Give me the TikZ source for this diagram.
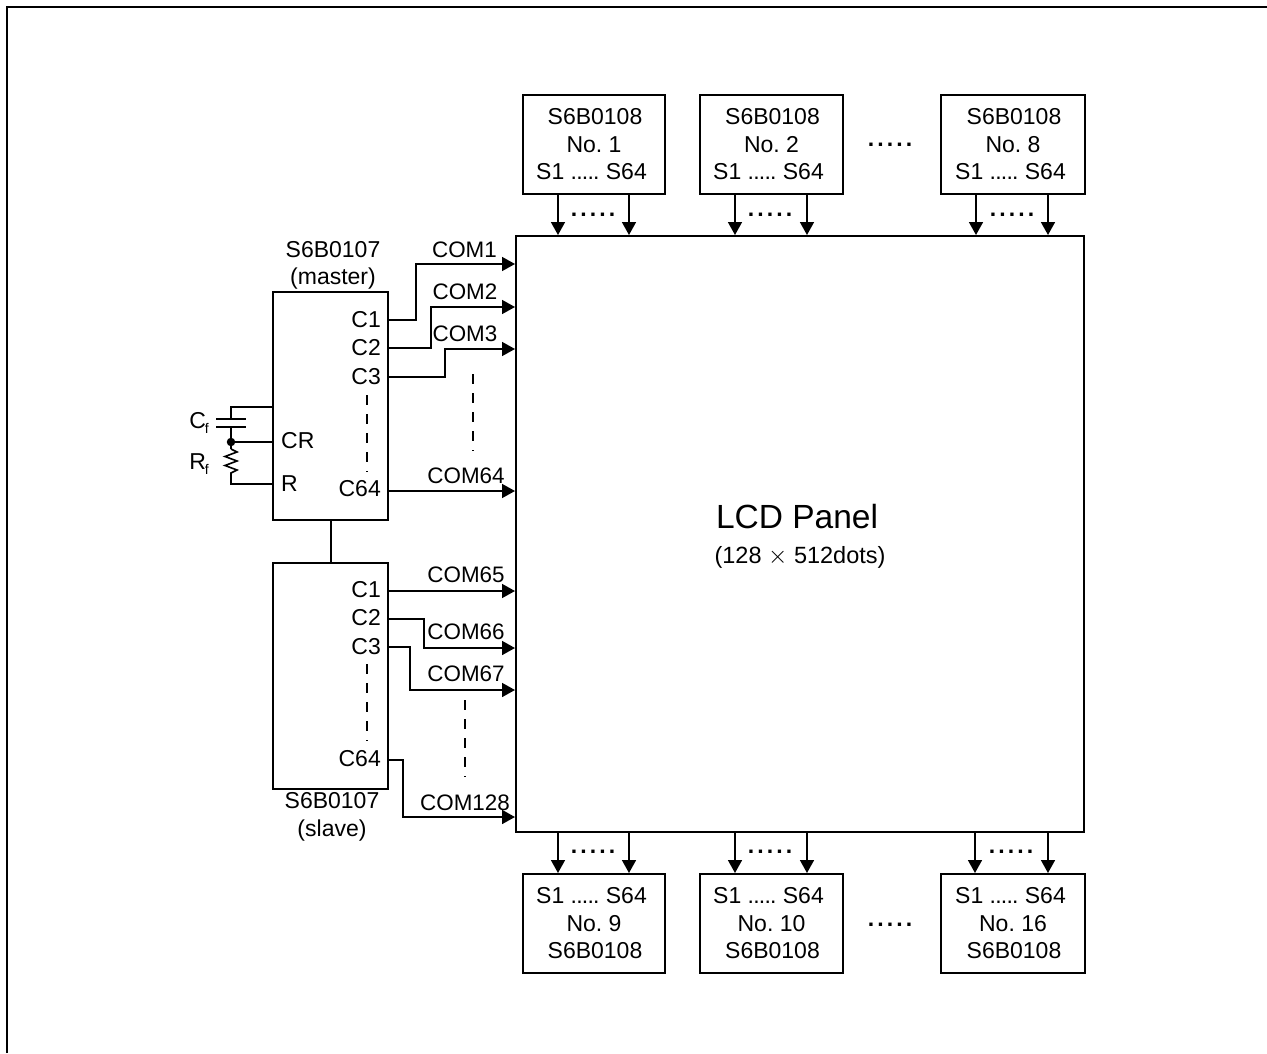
\documentclass[tikz,border=0pt]{standalone}
\usepackage{fontspec}
\setmainfont{Liberation Sans}
\usetikzlibrary{arrows.meta}
\newcommand{\dotrow}{\bfseries.\kern3.1pt.\kern3.1pt.\kern3.1pt.\kern3.1pt.}
\newcommand{\pinrange}[1]{S1 .\kern-.8pt.\kern-.8pt.\kern-.8pt.\kern-.8pt. S64\kern#1pt}
\newcommand{\drvname}{\kern2pt S6B0108}
\tikzset{
  x=1pt,y=-1pt,
  wire/.style={line width=1.6pt,line join=miter},
  arrowwire/.style={wire,-{Triangle[length=13pt,width=14pt]}},
  chip/.style={draw,line width=2pt,inner sep=0pt,outer sep=0pt,anchor=north west,align=center,
    font=\fontsize{23}{27.5}\selectfont},
  lbl/.style={inner sep=0pt,font=\fontsize{23}{27.5}\selectfont},
  comlbl/.style={inner sep=0pt,font=\fontsize{22.4}{27}\selectfont},
  dashline/.style={line width=1.5pt,dash pattern=on 10pt off 9pt},
  frameline/.style={line width=2pt}
}
\begin{document}
\frenchspacing
\begin{tikzpicture}
\useasboundingbox (0,0) rectangle (1267,1053);
\coordinate (f1) at (7,1053); \coordinate (f2) at (7,7); \coordinate (f3) at (1267,7);
\draw[frameline] (f1) -- (f2) -- (f3);

% LCD panel
\node[draw,line width=2pt,inner sep=0pt,outer sep=0pt,minimum width=568pt,minimum height=596pt,anchor=north west] (panel) at (516,236) {};
\node[lbl,font=\fontsize{33.5}{36}\selectfont] (t1) at (797,517) {LCD Panel};
\node[lbl,font=\fontsize{23.5}{27}\selectfont] (t2) at (800,557) {(128 $\times$ 512dots)};

% top driver chips
\foreach \n/\x/\w/\l/\k in {tA/523/142/1/5,tB/700/143/2/6,tC/941/144/8/5}{
  \node[chip,minimum width=\w pt,minimum height=99pt] (\n) at (\x,95)
    {\drvname\\No. \l\\\pinrange{\k}};
}
% bottom driver chips
\foreach \n/\x/\w/\l/\k in {bA/523/142/9/5,bB/700/143/10/6,bC/941/144/16/5}{
  \node[chip,minimum width=\w pt,minimum height=99pt] (\n) at (\x,874)
    {\pinrange{\k}\\No. \l\\\drvname};
}
% top and bottom arrows
\foreach \x/\c in {558/a,629/b,735/c,807/d,976/e,1048/f}{
  \coordinate (u\c) at (\x,194); \coordinate (v\c) at (\x,235);
  \draw[arrowwire] (u\c) -- (v\c);
}
\foreach \x/\c in {558/a,629/b,735/c,807/d,975/e,1048/f}{
  \coordinate (p\c) at (\x,832); \coordinate (q\c) at (\x,873);
  \draw[arrowwire] (p\c) -- (q\c);
}
% dot rows
\foreach \n/\x/\y in {d1/593/215,d2/770/215,d3/1012/215,d4/593/852,d5/770/852,d6/1011/852,d7/890/145,d8/890/925}{
  \node[lbl] (\n) at (\x,\y) {\dotrow};
}

% common drivers
\node[chip,minimum width=115pt,minimum height=228pt] (master) at (273,292) {};
\node[chip,minimum width=115pt,minimum height=226pt] (slave) at (273,563) {};
\coordinate (mb) at (331,520); \coordinate (st) at (331,563);
\draw[wire] (mb) -- (st);
\node[lbl,align=center] (mname) at (333,265.5) {S6B0107\\(master)};
\node[lbl,align=center] (sname) at (332,817) {S6B0107\\(slave)};

% pin labels
\foreach \n/\y/\t in {mc1/320/C1,mc2/348/C2,mc3/377/C3,mc4/489/C64,sc1/590/C1,sc2/618/C2,sc3/647/C3,sc4/759/C64}{
  \node[lbl,anchor=east] (\n) at (381,\y) {\t};
}
\node[lbl,anchor=west] (cr) at (281,441) {CR};
\node[lbl,anchor=west] (rr) at (281,484) {R};

% COM lines
\coordinate (m1) at (388,320); \coordinate (M1) at (515,264);
\coordinate (m2) at (388,348); \coordinate (M2) at (515,307);
\coordinate (m3) at (388,377); \coordinate (M3) at (515,349);
\coordinate (m4) at (388,491); \coordinate (M4) at (515,491);
\coordinate (s1) at (388,591); \coordinate (S1) at (515,591);
\coordinate (s2) at (388,619); \coordinate (S2) at (515,648);
\coordinate (s3) at (388,647); \coordinate (S3) at (515,690);
\coordinate (s4) at (388,760); \coordinate (S4) at (515,817);
\draw[arrowwire] (m1) -| (416,264) -- (M1);
\draw[arrowwire] (m2) -| (431,307) -- (M2);
\draw[arrowwire] (m3) -| (445,349) -- (M3);
\draw[arrowwire] (m4) -- (M4);
\draw[arrowwire] (s1) -- (S1);
\draw[arrowwire] (s2) -| (424,648) -- (S2);
\draw[arrowwire] (s3) -| (410,690) -- (S3);
\draw[arrowwire] (s4) -| (403,817) -- (S4);
\foreach \n/\x/\y/\t in {l1/464.5/250/COM1,l2/465/292/COM2,l3/465/334/COM3,l4/466/476/COM64,l5/466/575/COM65,l6/466/632/COM66,l7/466/674/COM67,l8/465/803/COM128}{
  \node[comlbl] (\n) at (\x,\y) {\t};
}

% omitted-pin dashes
\foreach \n/\x/\a/\b in {da/367/395/472,db/473/374/451,dc/367/664/741,dd/465/700/777}{
  \coordinate (\n1) at (\x,\a); \coordinate (\n2) at (\x,\b);
  \draw[dashline] (\n1) -- (\n2);
}

% RC network
\coordinate (w1) at (273,407); \coordinate (w2) at (231,419);
\coordinate (p1) at (216,419); \coordinate (p2) at (246,419);
\coordinate (p3) at (216,427); \coordinate (p4) at (246,427);
\coordinate (w3) at (231,427); \coordinate (j) at (231,442);
\coordinate (w4) at (273,442); \coordinate (r1) at (231,449);
\coordinate (r2) at (231,476); \coordinate (w5) at (273,484);
\draw[wire] (w1) -| (w2);
\draw[wire] (p1) -- (p2);
\draw[wire] (p3) -- (p4);
\draw[wire] (w3) -- (j) -- (w4);
\draw[wire] (j) -- (r1);
\draw[wire] (r1) -- ++(6,3) -- ++(-12,4.5) -- ++(12,4.5) -- ++(-12,4.5) -- ++(12,4.5) -- ++(-6,3) -- (r2);
\draw[wire] (r2) |- (w5);
\node[circle,fill,inner sep=0pt,minimum size=8.5pt] (jd) at (j) {};
\node[lbl,anchor=east] (cf) at (209,423) {C\kern-1pt\raisebox{-5pt}{\fontsize{14}{14}\selectfont f}};
\node[lbl,anchor=east] (rf) at (209,464) {R\kern-1pt\raisebox{-5pt}{\fontsize{14}{14}\selectfont f}};
\end{tikzpicture}
\end{document}
